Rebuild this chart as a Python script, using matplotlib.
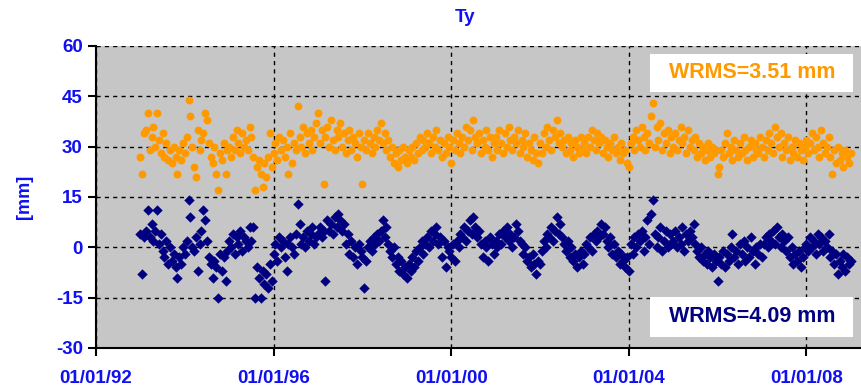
import numpy as np
import matplotlib.pyplot as plt
from matplotlib.patches import Rectangle

# half-monthly Ty residuals, 1993.0 .. 2009.0
# upper series (orange) is drawn with a +30 mm offset
ty_upper = [
    27, 22, 34, 35, 40, 29, 33, 36, 30, 40, 32, 28, 34, 27, 31, 26, 29, 25, 30, 27, 22, 29, 26, 31,  # 1993
    28, 33, 44, 39, 30, 24, 21, 35, 29, 32, 34, 40, 38, 31, 27, 25, 30, 22, 17, 28, 26, 31, 22, 29,  # 1994
    30, 27, 33, 29, 35, 31, 28, 34, 30, 32, 29, 36, 33, 27, 17, 24, 26, 22, 18, 25, 21, 27, 34, 24,  # 1995
    28, 31, 26, 33, 29, 32, 27, 30, 22, 34, 25, 31, 29, 42, 33, 30, 36, 28, 34, 31, 35, 29, 33, 37,  # 1996
    40, 31, 35, 19, 33, 36, 30, 38, 32, 29, 35, 33, 37, 30, 34, 28, 32, 35, 29, 33, 31, 27, 34, 30,  # 1997
    19, 32, 29, 34, 31, 28, 33, 30, 35, 32, 37, 31, 34, 29, 32, 27, 30, 25, 28, 24, 29, 26, 30, 27,  # 1998
    25, 29, 27, 30, 26, 31, 28, 33, 29, 32, 30, 34, 31, 28, 33, 30, 35, 29, 32, 27, 31, 28, 33, 30,  # 1999
    25, 32, 29, 34, 31, 28, 33, 30, 36, 32, 35, 29, 38, 33, 31, 34, 28, 32, 30, 35, 29, 33, 27, 31,  # 2000
    33, 29, 35, 31, 28, 34, 30, 36, 32, 29, 33, 31, 35, 28, 32, 30, 34, 27, 31, 29, 26, 33, 28, 25,  # 2001
    31, 28, 34, 30, 36, 32, 29, 35, 33, 38, 31, 34, 30, 32, 28, 33, 29, 31, 27, 32, 30, 28, 33, 29,  # 2002
    31, 28, 33, 30, 35, 32, 29, 34, 31, 33, 28, 32, 30, 27, 31, 29, 33, 28, 30, 26, 31, 28, 29, 25,  # 2003
    24, 31, 33, 29, 35, 32, 30, 36, 33, 29, 34, 31, 39, 43, 30, 36, 32, 37, 29, 34, 31, 35, 28, 33,  # 2004
    30, 34, 29, 32, 36, 31, 33, 28, 35, 30, 32, 29, 33, 27, 31, 28, 30, 26, 29, 31, 27, 30, 28, 29,  # 2005
    22, 24, 29, 27, 31, 34, 28, 30, 26, 32, 29, 27, 31, 28, 33, 29, 26, 30, 32, 27, 31, 29, 28, 33,  # 2006
    30, 27, 32, 29, 34, 31, 28, 36, 33, 30, 34, 27, 31, 29, 33, 26, 30, 28, 32, 27, 31, 29, 26, 30,  # 2007
    32, 28, 31, 34, 29, 33, 30, 27, 35, 31, 28, 30, 33, 27, 22, 29, 25, 30, 26, 28, 24, 29, 27, 25,  # 2008
    28,
]
ty_lower = [
    4, -8, 3, 5, 11, 3, 7, 2, 5, 11, 1, 4, -1, -3, 2, -5, 0, -4, -2, -6, -9, -3, -5, 0,  # 1993
    -2, 2, 14, 9, 0, -1, 3, -7, 1, 5, 11, 8, 2, -3, -5, -9, -4, -6, -15, -2, -7, -3, -10, -1,  # 1994
    2, 0, 4, -2, 3, 1, 5, -1, 3, 2, 0, 6, 2, 6, -15, -6, -9, -15, -7, -11, -8, -12, -5, -10,  # 1995
    -2, 1, -4, 3, 0, 2, -3, -7, 1, 3, 0, -2, 4, 13, 7, 1, 3, 0, 5, 2, 4, 6, 1, 3,  # 1996
    4, 6, 3, 5, -10, 8, 5, 7, 4, 9, 6, 10, 8, 5, 7, 1, 4, -2, 2, -3, 0, -5, 1, -1,  # 1997
    -3, -12, -4, 0, 2, -1, 3, 1, 4, 2, 5, 8, 3, 6, 1, -1, -3, 0, -5, -3, -7, -4, -8, -6,  # 1998
    -9, -5, -7, -3, -6, -1, -4, 0, 2, -2, 1, 3, 0, 5, 2, 4, 6, 1, 3, -3, 2, -6, 0, -1,  # 1999
    -3, 1, -4, 2, 0, 4, 3, 6, 2, 5, 8, 4, 9, 6, 3, 5, 1, -3, 2, 0, -4, 3, 1, -2,  # 2000
    2, 0, 4, 1, 5, 3, 6, 2, 4, 0, 3, 7, 5, 2, 1, -2, 0, -4, -3, -6, -2, -5, -8, -4,  # 2001
    -5, -1, 2, 0, 4, 3, 6, 2, 5, 9, 4, 7, 3, 1, -1, 2, -3, 0, -4, -2, -6, -3, -1, -5,  # 2002
    -2, 1, 0, 3, -1, 4, 2, 5, 3, 7, 4, 6, 2, 0, 3, -2, 1, -3, -1, -5, -2, -4, -6, -3,  # 2003
    -7, 1, -2, 3, 0, 4, 2, 5, -1, 3, 8, 1, 10, 14, 4, 0, 3, 6, -1, 2, 5, 0, 4, 1,  # 2004
    2, 5, 0, 3, 1, 6, -1, 4, 2, 5, 3, 7, 1, -1, -3, 0, -4, -2, -5, -1, -3, -6, -2, -4,  # 2005
    -10, -3, -5, -1, -6, -2, -4, 0, 4, -3, -1, -5, 1, -2, 2, -4, 0, -3, 3, -1, -5, 0, -2, 1,  # 2006
    -3, 1, 3, 0, 4, 2, 5, 1, 6, 3, 0, 4, 2, -1, 3, -3, 0, -5, -2, -4, -1, -6, -3, 0,  # 2007
    1, -1, 3, 0, 2, -2, 4, 1, 3, -1, 2, 0, 4, -3, -1, -5, -2, -8, -4, -6, -2, -7, -3, -5,  # 2008
    -4,
]
start_year = 1993.0
step = 1 / 24

tick_years = [1992, 1996, 2000, 2004, 2008]
tick_labels = ['01/01/92', '01/01/96', '01/01/00', '01/01/04', '01/01/08']
y_ticks = [-30, -15, 0, 15, 30, 45, 60]

wrms_upper = 'WRMS=3.51 mm'
wrms_lower = 'WRMS=4.09 mm'

blue = '#1010f0'
orange = '#ff9900'
navy = '#000080'

plt.rcParams['font.family'] = ['Liberation Sans', 'DejaVu Sans']

t = start_year + step * np.arange(len(ty_lower))

fig = plt.figure(figsize=(8.62, 3.90), dpi=100)
W, H = 862, 390
ax = fig.add_axes([96 / W, (H - 348) / H, (W - 96) / W, (348 - 46) / H])
ax.set_facecolor('#c6c6c6')

ax.scatter(t, ty_upper, s=32, marker='o', color=orange, linewidths=0, zorder=3)
ax.scatter(t, ty_lower, s=28, marker='D', color=navy, linewidths=0, zorder=3)

ax.set_xlim(1992, 1992 + (W - 96) / 44.4)
ax.set_ylim(-30, 60)
ax.set_xticks(tick_years)
ax.set_xticklabels(tick_labels)
ax.set_yticks(y_ticks)
ax.set_yticklabels([str(v) for v in y_ticks])

ax.grid(True, color='black', linestyle=(0, (3, 3)), linewidth=1.0)
ax.set_axisbelow(True)
for s in ['top', 'right']:
    ax.spines[s].set_visible(False)
for s in ['left', 'bottom']:
    ax.spines[s].set_linewidth(1.5)
    ax.spines[s].set_color('black')

ax.tick_params(axis='both', direction='out', length=6, width=1.5, colors='black',
               labelcolor=blue, labelsize=13.5)
ax.tick_params(axis='x', pad=10)
for lab in ax.get_xticklabels() + ax.get_yticklabels():
    lab.set_fontweight('bold')

fig.text(25 / W, 1 - 197 / H, '[mm]', rotation=90, color=blue, fontsize=13,
         fontweight='bold', ha='center', va='center')
fig.text(465 / W, 1 - 17 / H, 'Ty', color=blue, fontsize=13.5, fontweight='bold',
         ha='center', va='center')

# WRMS boxes (white, no border)
for (y0, y1), label, col in [((54, 92), wrms_upper, orange), ((297, 337), wrms_lower, navy)]:
    fig.patches.append(Rectangle((650 / W, 1 - y1 / H), 203 / W, (y1 - y0) / H,
                                 transform=fig.transFigure, facecolor='white',
                                 edgecolor='none', zorder=5))
    fig.text(752 / W, 1 - (y0 + y1) / 2 / H, label, color=col, fontsize=15.5,
             fontweight='bold', ha='center', va='center', zorder=6)

fig.savefig('out.png', dpi=100)
